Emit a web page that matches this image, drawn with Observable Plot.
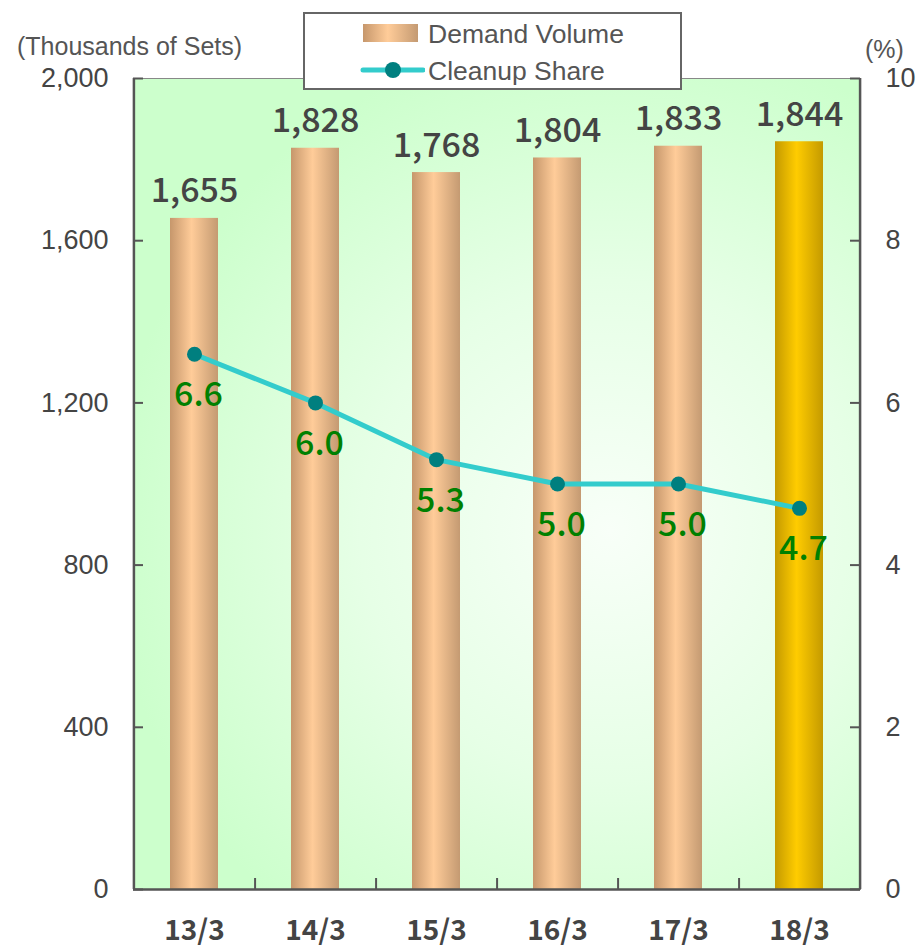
<!DOCTYPE html>
<html>
<head>
<meta charset="utf-8">
<script src="https://cdn.jsdelivr.net/npm/d3@7"></script>
<script src="https://cdn.jsdelivr.net/npm/@observablehq/plot@0.6"></script>
<style>
  body { margin: 0; background: #fff; }
  #wrap { position: relative; width: 917px; height: 948px; font-family: "Liberation Sans", Arial, sans-serif; }
  #wrap svg { display: block; }
  .unit { position: absolute; font-size: 25px; color: #555; line-height: 1; white-space: nowrap; }
  #legend { position: absolute; left: 303px; top: 12px; width: 375px; height: 74px; background: #fff; border: 2px solid #666; }
  #legend .label { position: absolute; left: 123px; font-size: 26.5px; color: #555; line-height: 1; white-space: nowrap; }
</style>
</head>
<body>
<div id="wrap">
  <div class="unit" style="left:17px; top:34px;">(Thousands of Sets)</div>
  <div class="unit" style="left:865px; top:37px;">(%)</div>
  <div id="legend">
    <svg width="120" height="74" style="position:absolute;left:0;top:0">
      <defs>
        <linearGradient id="legendTan" x1="0" x2="1" y1="0" y2="0">
          <stop offset="0" stop-color="#c6976c"/>
          <stop offset="0.45" stop-color="#ffcc99"/>
          <stop offset="1" stop-color="#c49a72"/>
        </linearGradient>
      </defs>
      <rect x="58" y="10" width="55" height="18" fill="url(#legendTan)"/>
      <line x1="58" x2="118" y1="56" y2="56" stroke="#33cccc" stroke-width="5" stroke-linecap="round"/>
      <circle cx="88" cy="56" r="8" fill="#007f7f"/>
    </svg>
    <div class="label" style="top:7px;">Demand Volume</div>
    <div class="label" style="top:44px;">Cleanup Share</div>
  </div>
</div>
<script>
// Demand volume (thousands of sets) and cleanup share (%) by fiscal period
const periods = ["13/3", "14/3", "15/3", "16/3", "17/3", "18/3"];
const demand = [1655, 1828, 1768, 1804, 1833, 1844];
const share = [6.6, 6.0, 5.3, 5.0, 5.0, 4.7];
const demandTicks = [0, 400, 800, 1200, 1600, 2000];
const shareTicks = [0, 2, 4, 6, 8, 10];

// share is plotted against the demand scale: 10% maps to 2,000
const shareToDemand = 2000 / 10;

const rows = periods.map((period, i) => ({
  period,
  demand: demand[i],
  share: share[i],
  latest: i === periods.length - 1
}));

const axisColor = "#555";
const digitFont = "'Noto Sans CJK JP', 'Liberation Sans', sans-serif";
const stepPx = (917 - 133 - 57) / periods.length;

const chart = Plot.plot({
  width: 917,
  height: 948,
  marginLeft: 133,
  marginRight: 57,
  marginTop: 78,
  marginBottom: 59,
  style: { fontFamily: "'Liberation Sans', Arial, sans-serif", background: "transparent", overflow: "visible" },
  x: { domain: periods, paddingInner: 0.6, paddingOuter: 0.3, axis: null },
  y: { domain: [0, 2000], axis: null },
  marks: [
    Plot.frame({ fill: "url(#panelGlow)", stroke: "#888", strokeWidth: 1 }),
    Plot.barY(rows, { filter: d => !d.latest, x: "period", y: "demand", fill: "url(#barTan)" }),
    Plot.barY(rows, { filter: d => d.latest, x: "period", y: "demand", fill: "url(#barGold)" }),
    Plot.text(rows, {
      x: "period", y: "demand", text: d => d3.format(",")(d.demand),
      dy: -16, lineAnchor: "bottom", fontSize: 34, fontWeight: 500,
      fontFamily: digitFont, fill: "#444", letterSpacing: 2
    }),
    Plot.line(rows, {
      x: "period", y: d => d.share * shareToDemand,
      stroke: "#33cccc", strokeWidth: 5, curve: "linear"
    }),
    Plot.dot(rows, {
      x: "period", y: d => d.share * shareToDemand,
      r: 7.5, fill: "#007f7f", stroke: "none"
    }),
    Plot.text(rows, {
      x: "period", y: d => d.share * shareToDemand, text: d => d.share.toFixed(1),
      dy: 41, dx: 4, fontSize: 34, fontWeight: 500, fontFamily: digitFont,
      fill: "#008000"
    }),
    // axis lines: left, right, bottom
    Plot.ruleY([0], { stroke: axisColor, strokeWidth: 2.5 }),
    Plot.ruleX([periods[0]], { dx: -stepPx / 2, stroke: axisColor, strokeWidth: 2.5 }),
    Plot.ruleX([periods[periods.length - 1]], { dx: stepPx / 2, stroke: axisColor, strokeWidth: 2.5 }),
    // inward tick marks
    Plot.ruleY(demandTicks, { insetRight: 917 - 133 - 57 - 10, stroke: axisColor, strokeWidth: 2 }),
    Plot.ruleY(shareTicks.map(v => v * shareToDemand), { insetLeft: 917 - 133 - 57 - 10, stroke: axisColor, strokeWidth: 2 }),
    Plot.ruleX(periods.slice(0, -1), { dx: stepPx / 2, insetTop: 811 - 11, stroke: axisColor, strokeWidth: 2 }),
    // tick labels
    Plot.axisY(demandTicks, {
      anchor: "left", tickSize: 0, tickPadding: 25, tickFormat: d3.format(","),
      fontSize: 27, color: "#444", label: null
    }),
    Plot.axisY(shareTicks.map(v => v * shareToDemand), {
      anchor: "right", tickSize: 0, tickPadding: 25, tickFormat: v => String(v / shareToDemand),
      fontSize: 27, color: "#444", label: null
    }),
    Plot.axisX({
      anchor: "bottom", tickSize: 0, tickPadding: 31, fontSize: 28, fontWeight: "bold",
      fontFamily: digitFont, color: "#444", letterSpacing: 2, label: null
    })
  ]
});

// gradients referenced by the panel background and the bars
const defs = d3.select(chart).insert("defs", ":first-child");
const glow = defs.append("radialGradient")
  .attr("id", "panelGlow").attr("gradientUnits", "userSpaceOnUse")
  .attr("cx", 610).attr("cy", 530).attr("r", 500);
glow.append("stop").attr("offset", 0).attr("stop-color", "#f8fff8");
glow.append("stop").attr("offset", 0.5).attr("stop-color", "#e6ffe6");
glow.append("stop").attr("offset", 1).attr("stop-color", "#ccffcc");

function shade(id, edgeL, mid, edgeR) {
  const g = defs.append("linearGradient").attr("id", id)
    .attr("x1", 0).attr("x2", 1).attr("y1", 0).attr("y2", 0);
  g.append("stop").attr("offset", 0).attr("stop-color", edgeL);
  g.append("stop").attr("offset", 0.45).attr("stop-color", mid);
  g.append("stop").attr("offset", 1).attr("stop-color", edgeR);
}
shade("barTan", "#c6976c", "#ffcc99", "#c49a72");
shade("barGold", "#c49a00", "#ffcc00", "#c49a00");

document.getElementById("wrap").prepend(chart);
</script>
</body>
</html>
